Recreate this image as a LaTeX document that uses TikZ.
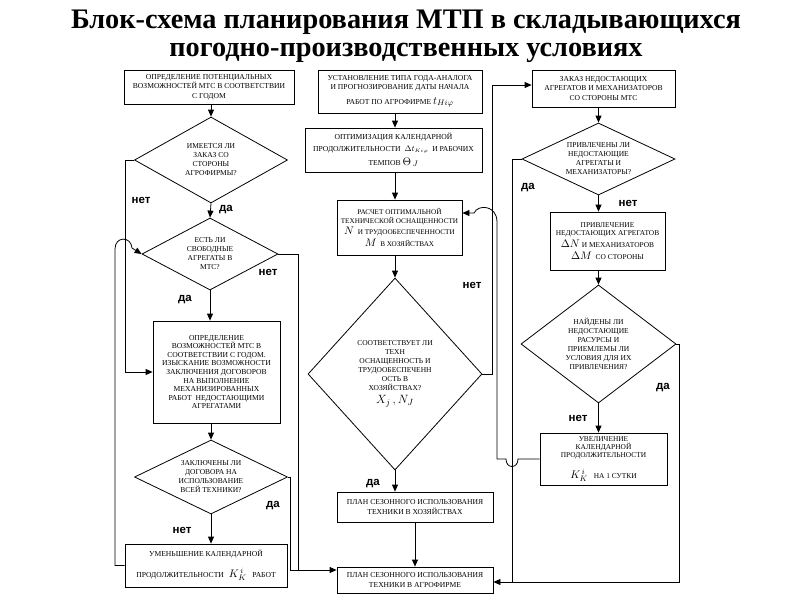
\documentclass[tikz,border=0pt]{standalone}
\usepackage{fontspec}
\setmainfont{Liberation Serif}
\newfontfamily\lblfont{Liberation Sans}
\usetikzlibrary{shapes.geometric,arrows.meta}
\newcommand\mth[1]{{\fontsize{11}{11}\selectfont$#1$}}
\begin{document}
\begin{tikzpicture}[x=1pt,y=-1pt,
  line width=0.8pt,
  box/.style={draw,rectangle,inner sep=1pt,align=center,font=\fontsize{7.6}{9.3}\selectfont},
  dia/.style={draw,diamond,inner sep=0pt,align=center,font=\fontsize{7.5}{9}\selectfont},
  arr/.style={-{Triangle[length=7pt,width=6pt]}},
  lbl/.style={font=\lblfont\bfseries\fontsize{11.5}{12}\selectfont,inner sep=0pt},
  ttl/.style={font=\bfseries\fontsize{28.3}{28}\selectfont,inner sep=0pt,align=center}]
\fill[white] (0,0) rectangle (800,600);
\useasboundingbox (0,0) rectangle (800,600);
% title
\node[ttl] (t1) at (406,36) {Блок-схема планирования МТП в складывающихся\\погодно-производственных условиях};
% left column
\node[box,minimum width=170,minimum height=34] (a1) at (209,87) {ОПРЕДЕЛЕНИЕ ПОТЕНЦИАЛЬНЫХ\\ВОЗМОЖНОСТЕЙ МТС В СООТВЕТСТВИИ\\С ГОДОМ};
\node[dia,minimum width=153,minimum height=86,aspect=1.78] (d1) at (211,160) {ИМЕЕТСЯ ЛИ\\ЗАКАЗ СО\\СТОРОНЫ\\АГРОФИРМЫ?};
\node[dia,minimum width=136,minimum height=72,aspect=1.89] (d2) at (210,254) {ЕСТЬ ЛИ\\СВОБОДНЫЕ\\АГРЕГАТЫ В\\МТС?};
\node[box,minimum width=127,minimum height=102,font=\fontsize{7.6}{8.6}\selectfont] (b) at (216.5,372) {ОПРЕДЕЛЕНИЕ\\ВОЗМОЖНОСТЕЙ МТС В\\СООТВЕТСТВИИ С ГОДОМ.\\ИЗЫСКАНИЕ ВОЗМОЖНОСТИ\\ЗАКЛЮЧЕНИЯ ДОГОВОРОВ\\НА ВЫПОЛНЕНИЕ\\МЕХАНИЗИРОВАННЫХ\\РАБОТ \ НЕДОСТАЮЩИМИ\\АГРЕГАТАМИ};
\node[dia,minimum width=153,minimum height=74,aspect=2.07] (d3) at (211,477) {ЗАКЛЮЧЕНЫ ЛИ\\ДОГОВОРА НА\\ИСПОЛЬЗОВАНИЕ\\ВСЕЙ ТЕХНИКИ?};
\node[box,minimum width=162,minimum height=43] (u) at (206,565.5) {УМЕНЬШЕНИЕ КАЛЕНДАРНОЙ\\[9pt]ПРОДОЛЖИТЕЛЬНОСТИ\hspace{5pt}\mth{K_K^{\,i}}\hspace{6pt}РАБОТ};
% middle column
\node[box,minimum width=164,minimum height=43] (m1) at (400,91.5) {УСТАНОВЛЕНИЕ ТИПА ГОДА-АНАЛОГА\\И ПРОГНОЗИРОВАНИЕ ДАТЫ НАЧАЛА\\[5pt]РАБОТ ПО АГРОФИРМЕ \mth{t_{Hi\varphi}}};
\node[box,minimum width=177,minimum height=44] (m2) at (393.5,150) {ОПТИМИЗАЦИЯ КАЛЕНДАРНОЙ\\[3pt]ПРОДОЛЖИТЕЛЬНОСТИ \ $\Delta t_{Ki\varphi}$ \ И РАБОЧИХ\\[3pt]ТЕМПОВ \mth{\Theta_{\,J}}};
\node[box,minimum width=125,minimum height=55,font=\fontsize{7.2}{8.4}\selectfont] (m3) at (399.5,227.5) {РАСЧЕТ ОПТИМАЛЬНОЙ\\ТЕХНИЧЕСКОЙ ОСНАЩЕННОСТИ\\[1pt]\mth{N} \ И ТРУДООБЕСПЕЧЕННОСТИ\\[2pt]\mth{M} \ В ХОЗЯЙСТВАХ};
\node[dia,minimum width=174,minimum height=192,aspect=0.9] (dm) at (395,374) {СООТВЕТСТВУЕТ ЛИ\\ТЕХН\\ОСНАЩЕННОСТЬ И\\ТРУДООБЕСПЕЧЕНН\\ОСТЬ В\\ХОЗЯЙСТВАХ?\\[4pt]{\fontsize{13}{13}\selectfont$X_j\,,N_J$}};
\node[box,minimum width=156,minimum height=30] (m4) at (415,507) {ПЛАН СЕЗОННОГО ИСПОЛЬЗОВАНИЯ\\ТЕХНИКИ В ХОЗЯЙСТВАХ};
\node[box,minimum width=156,minimum height=26] (m5) at (415,580) {ПЛАН СЕЗОННОГО ИСПОЛЬЗОВАНИЯ\\ТЕХНИКИ В АГРОФИРМЕ};
% right column
\node[box,minimum width=143,minimum height=37] (r1) at (603.5,88.5) {ЗАКАЗ НЕДОСТАЮЩИХ\\АГРЕГАТОВ И МЕХАНИЗАТОРОВ\\СО СТОРОНЫ МТС};
\node[dia,minimum width=153,minimum height=72,aspect=2.1] (dr1) at (598.5,159) {ПРИВЛЕЧЕНЫ ЛИ\\НЕДОСТАЮЩИЕ\\АГРЕГАТЫ И\\МЕХАНИЗАТОРЫ?};
\node[box,minimum width=115,minimum height=58,font=\fontsize{7.4}{8.6}\selectfont] (r2) at (607.5,241) {ПРИВЛЕЧЕНИЕ\\НЕДОСТАЮЩИХ АГРЕГАТОВ\\[2pt]\mth{\Delta N} И МЕХАНИЗАТОРОВ\\[3pt]\mth{\Delta M} \ СО СТОРОНЫ};
\node[dia,minimum width=155,minimum height=118,aspect=1.31] (dr2) at (598.5,344) {НАЙДЕНЫ ЛИ\\НЕДОСТАЮЩИЕ\\РАСУРСЫ И\\ПРИЕМЛЕМЫ ЛИ\\УСЛОВИЯ ДЛЯ ИХ\\ПРИВЛЕЧЕНИЯ?};
\node[box,minimum width=127,minimum height=52,font=\fontsize{7.4}{8.4}\selectfont] (r3) at (603.5,459) {УВЕЛИЧЕНИЕ\\КАЛЕНДАРНОЙ\\ПРОДОЛЖИТЕЛЬНОСТИ\\[9pt]\mth{K_K^{\,i}}\hspace{6pt}НА 1 СУТКИ};
% labels
\node[lbl] (l1) at (141,200) {нет};
\node[lbl] (l2) at (226,210) {да};
\node[lbl] (l3) at (268,272) {нет};
\node[lbl] (l4) at (185,300) {да};
\node[lbl] (l5) at (182,530) {нет};
\node[lbl] (l6) at (273,506) {да};
\node[lbl] (l7) at (472,285) {нет};
\node[lbl] (l8) at (373,484) {да};
\node[lbl] (l9) at (528,188) {да};
\node[lbl] (l10) at (628,203) {нет};
\node[lbl] (l11) at (663,388) {да};
\node[lbl] (l12) at (578,418) {нет};
% connectors left
\draw[arr] (d1.north |- a1.south) -- (d1.north);
\draw[arr] (d1.south) -- (d2.north);
\draw[arr] (d1.west) -- (125,160) |- (b.west);
\draw[arr] (d2.south) -- (d2.south |- b.north);
\draw[arr] (d2.east) -- (298,254) |- ([yshift=10pt]m5.west);
\draw[arr] (b.south -| d3.north) -- (d3.north);
\draw[arr] (d3.south) -- (d3.south |- u.north);
\draw (d3.east) -- (290,477) -- (290,570) -- (298,570);
\draw[arr] (u.west) -- (115,565.5) -- (115,249) .. controls (115,236) and (131,236) .. (132,248) -- (d2.west);
% connectors middle
\draw[arr] (m1.south -| dm.north) -- (m2.north -| dm.north);
\draw[arr] (m2.south -| dm.north) -- (m3.north -| dm.north);
\draw[arr] (m3.south -| dm.north) -- (dm.north);
\draw[arr] (dm.south) -- (dm.south |- m4.north);
\draw[arr] (m4.south) -- (m4.south |- m5.north);
\draw[arr] (dm.east) -- (492,374) |- ([yshift=3.5pt]r1.west);
% connectors right
\draw[arr] (r1.south -| dr1.north) -- (dr1.north);
\draw[arr] (dr1.south) -- (dr1.south |- r2.north);
\draw[arr] (r2.south -| dr2.north) -- (dr2.north);
\draw[arr] (dr2.south) -- (dr2.south |- r3.north);
\draw (dr1.west) -- (512,159) -- (512,582);
\draw[arr] (dr2.east) -- (679,344) -- (679,582) -- ([yshift=-2pt]m5.east);
\draw[arr] (r3.west) -- (518,459) .. controls (518,469) and (506,469) .. (506,459) -- (497,459) -- (497,222) .. controls (497,205) and (478,204) .. (474,213) -- ([yshift=14.5pt]m3.east);
\end{tikzpicture}
\end{document}
